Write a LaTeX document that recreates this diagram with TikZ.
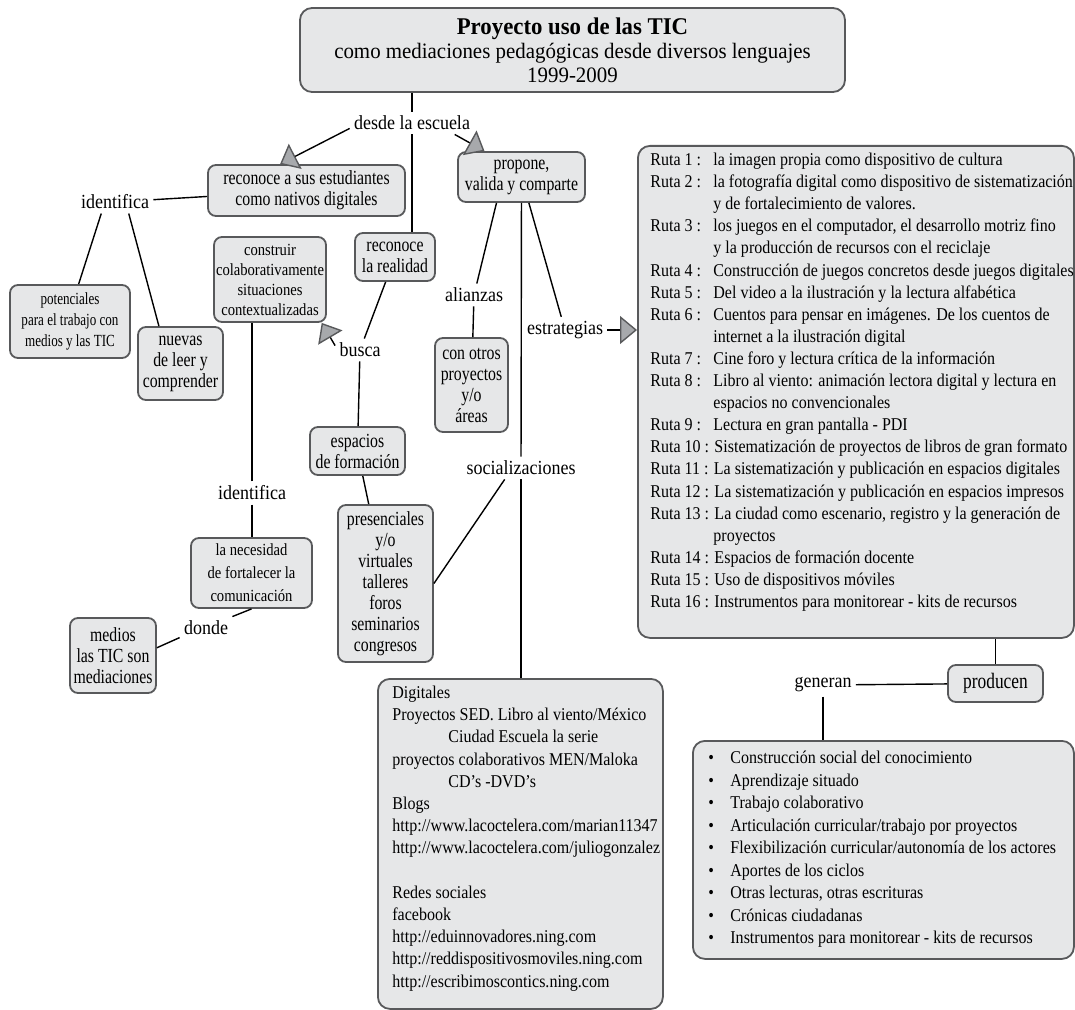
\documentclass[tikz,border=0pt]{standalone}
\usepackage{fontspec}
\setmainfont{Liberation Serif}
\newfontfamily\titleface[FakeStretch=0.95]{Liberation Serif}
\newfontfamily\boxface[FakeStretch=0.79]{Liberation Serif}
\newfontfamily\linkface[FakeStretch=0.9]{Liberation Serif}
\newfontfamily\smallface[FakeStretch=0.77]{Liberation Serif}
\newfontfamily\midface[FakeStretch=0.86]{Liberation Serif}
\newfontfamily\rutaface[FakeStretch=0.89]{Liberation Serif}
\usetikzlibrary{arrows.meta}
\definecolor{cfill}{HTML}{E6E7E8}
\definecolor{cline}{HTML}{58595B}
\definecolor{ctip}{HTML}{A7A9AC}
\newcommand{\rt}[1]{\makebox[31.5pt][l]{Ruta #1 :}}
\newcommand{\itm}[1]{\makebox[11pt][l]{\textbullet}#1}

\begin{document}
\begin{tikzpicture}[x=0.5pt,y=-0.5pt,
  concept/.style={draw=cline, fill=cfill, line width=0.9pt, rounded corners=4pt,
    align=center, inner sep=1pt, font=\boxface\fontsize{10}{10.5}\selectfont},
  px/.style 2 args={minimum width=#1*0.5pt, minimum height=#2*0.5pt},
  link/.style={align=center, inner sep=2pt, font=\linkface\fontsize{10}{11}\selectfont},
  conn/.style={line width=0.7pt},
  arr/.style={conn, -{Triangle[length=8.5pt, width=14pt, fill=ctip, color=cline]}}]
%\draw[help lines, color=gray!30, dashed] (0,0) grid[step=50] (1075,1010);
\useasboundingbox (0,0) rectangle (1075,1010);

\node[concept, px={545}{84}, rounded corners=6pt, font=\titleface\fontsize{11}{12}\selectfont] (title) at (572.5,50)
  {{\bfseries\fontsize{12}{12}\selectfont Proyecto uso de las TIC}\\como mediaciones pedagógicas desde diversos lenguajes\\1999-2009};
\node[link] (desde) at (412,123) {desde la escuela};
\node[concept, px={197}{51}] (rec) at (306.5,190.5) {reconoce a sus estudiantes\\como nativos digitales};
\node[link] (ident1) at (115,202) {identifica};
\node[concept, px={120}{73}, font=\smallface\fontsize{8.5}{10.5}\selectfont] (pot) at (70,321.5) {potenciales\\para el trabajo con\\medios y las TIC};
\node[concept, px={85}{73}] (nuevas) at (180.5,363.5) {nuevas\\de leer y\\comprender};
\node[concept, px={110}{85}, font=\midface\fontsize{8.5}{10}\selectfont] (cons) at (270,279.5) {construir\\colaborativamente\\situaciones\\contextualizadas};
\node[concept, px={80}{48}] (recreal) at (395,257) {reconoce\\la realidad};
\node[link] (busca) at (360,350) {busca};
\node[concept, px={127}{50}] (prop) at (521.5,177) {propone,\\valida y comparte};
\node[link] (ali) at (474,295) {alianzas};
\node[concept, px={73}{94}] (otros) at (471.5,385) {con otros\\proyectos\\y/o\\áreas};
\node[link] (estr) at (565,330) {estrategias};
\node[concept, px={95}{48}] (esp) at (357.5,451) {espacios\\de formación};
\node[concept, px={95}{157}] (pres) at (385.5,583.5) {presenciales\\y/o\\virtuales\\talleres\\foros\\seminarios\\congresos};
\node[link] (soc) at (521,468) {socializaciones};
\node[link] (ident2) at (252,493) {identifica};
\node[concept, px={121}{70}, font=\midface\fontsize{8.5}{11.5}\selectfont] (nec) at (251.5,573) {la necesidad\\de fortalecer la\\comunicación};
\node[link] (donde) at (206,628) {donde};
\node[concept, px={86}{75}] (med) at (113,655.5) {medios\\las TIC son\\mediaciones};

\node[concept, px={436}{492}, rounded corners=6pt, anchor=north west] (ruta) at (637,145) {};
\node[anchor=north west, inner sep=0pt, align=left, font=\rutaface\fontsize{9}{11.05}\selectfont] (rutatxt) at (650,152.7)
  {\rt{1}la imagen propia como dispositivo de cultura\\
   \rt{2}la fotografía digital como dispositivo de sistematización\\
   \hspace*{31.5pt}y de fortalecimiento de valores.\\
   \rt{3}los juegos en el computador, el desarrollo motriz fino\\
   \hspace*{31.5pt}y la producción de recursos con el reciclaje\\
   \rt{4}Construcción de juegos concretos desde juegos digitales\\
   \rt{5}Del video a la ilustración y la lectura alfabética\\
   \rt{6}Cuentos para pensar en imágenes. De los cuentos de\\
   \hspace*{31.5pt}internet a la ilustración digital\\
   \rt{7}Cine foro y lectura crítica de la información\\
   \rt{8}Libro al viento: animación lectora digital y lectura en\\
   \hspace*{31.5pt}espacios no convencionales\\
   \rt{9}Lectura en gran pantalla - PDI\\
   Ruta 10 : Sistematización de proyectos de libros de gran formato\\
   Ruta 11 : La sistematización y publicación en espacios digitales\\
   Ruta 12 : La sistematización y publicación en espacios impresos\\
   Ruta 13 : La ciudad como escenario, registro y la generación de\\
   \hspace*{31.5pt}proyectos\\
   Ruta 14 : Espacios de formación docente\\
   Ruta 15 : Uso de dispositivos móviles\\
   Ruta 16 : Instrumentos para monitorear - kits de recursos};
\node[concept, px={95}{37}, font=\boxface\fontsize{11}{12}\selectfont] (prod) at (995.5,683.5) {producen};
\node[link] (gen) at (823,685) {generan};

\node[concept, px={285}{330}, rounded corners=6pt, anchor=north west] (dig) at (377,678) {};
\node[anchor=north west, inner sep=0pt, align=left, font=\rutaface\fontsize{9}{11.1}\selectfont] (digtxt) at (392,685.7)
  {Digitales\\
   Proyectos SED. Libro al viento/México\\
   \hspace*{28pt}Ciudad Escuela la serie\\
   proyectos colaborativos MEN/Maloka\\
   \hspace*{28pt}CD’s -DVD’s\\
   Blogs\\
   http://www.lacoctelera.com/marian11347\\
   http://www.lacoctelera.com/juliogonzalez\\
   \mbox{}\\
   Redes sociales\\
   facebook\\
   http://eduinnovadores.ning.com\\
   http://reddispositivosmoviles.ning.com\\
   http://escribimoscontics.ning.com};

\node[concept, px={381}{218}, rounded corners=6pt, anchor=north west] (bul) at (692,740) {};
\node[anchor=north west, inner sep=0pt, align=left, font=\rutaface\fontsize{9}{11.25}\selectfont] (bultxt) at (708,750.7)
  {\itm{Construcción social del conocimiento}\\
   \itm{Aprendizaje situado}\\
   \itm{Trabajo colaborativo}\\
   \itm{Articulación curricular/trabajo por proyectos}\\
   \itm{Flexibilización curricular/autonomía de los actores}\\
   \itm{Aportes de los ciclos}\\
   \itm{Otras lecturas, otras escrituras}\\
   \itm{Crónicas ciudadanas}\\
   \itm{Instrumentos para monitorear - kits de recursos}};

\draw[conn] (title.south -| desde.north) -- (desde.north);
\draw[arr] (desde.185) -- (rec.135);
\draw[arr] (desde.-15) -- (prop.145);
\draw[conn] (desde.south) -- (desde.south |- recreal.north);
\draw[conn] (ident1) -- (rec);
\draw[conn] (ident1.-140) -- (pot.77);
\draw[conn] (ident1.-40) -- (nuevas.120);
\draw[conn] (ident2.north) -- (ident2.north |- cons.south);
\draw[conn] (ident2.south) -- (ident2.south |- nec.north);
\draw[conn] (nec.south) -- (donde.north east);
\draw[conn] (donde.200) -- (med.10);
\draw[conn] (recreal) -- (busca);
\draw[arr] (busca.170) -- (cons.-40);
\draw[conn] (busca) -- (esp);
\draw[conn] (esp) -- (pres);
\draw[conn] (soc.-145) -- (pres.east);
\draw[conn] (prop.-134) -- (ali);
\draw[conn] (ali) -- (otros);
\draw[conn] (prop) -- (soc);
\draw[conn] (soc.south) -- (soc.south |- dig.north);
\draw[conn] (prop) -- (estr);
\draw[arr] (estr.east) -- (estr.east -| ruta.west);
\draw[conn] (prod.north) -- (prod.north |- ruta.south);
\draw[conn] (gen) -- (prod);
\draw[conn] (gen.south) -- (gen.south |- bul.north);
\end{tikzpicture}
\end{document}
